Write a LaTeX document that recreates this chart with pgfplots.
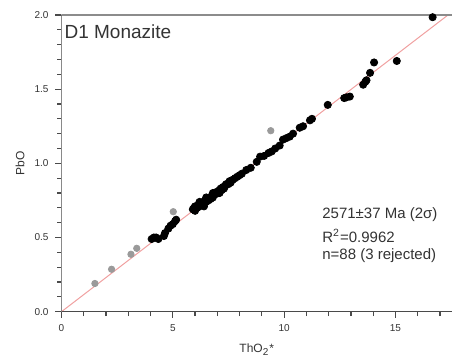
\documentclass[border=0pt]{standalone}
\usepackage{fontspec}
\setmainfont{Liberation Sans}
\usepackage{pgfplots}
\pgfplotsset{compat=1.18}
\definecolor{axgray}{HTML}{4A4A4A}
\definecolor{topgray}{HTML}{8C8C8C}
\definecolor{fitred}{HTML}{F0A0A0}
\definecolor{txtgray}{HTML}{333333}
\definecolor{rejgray}{HTML}{9A9A9A}
\begin{document}
\begin{tikzpicture}
\begin{axis}[
  scale only axis,
  width=195.25pt, height=148.35pt,
  xmin=0, xmax=17.54, ymin=0, ymax=2.0,
  separate axis lines,
  every outer x axis line/.append style={draw=none},
  every outer y axis line/.append style={draw=none},
  xtick pos=bottom, ytick pos=left,
  xtick={0,5,10,15}, ytick={0,0.5,1.0,1.5,2.0},
  minor xtick={1,2,3,4,6,7,8,9,11,12,13,14,16,17},
  minor ytick={0.1,0.2,0.3,0.4,0.6,0.7,0.8,0.9,1.1,1.2,1.3,1.4,1.6,1.7,1.8,1.9},
  tick align=outside,
  major tick length=3pt, minor tick length=2.2pt,
  every tick/.style={draw=axgray, line width=0.6pt},
  /pgf/number format/assume math mode=true,
  yticklabel style={/pgf/number format/fixed, /pgf/number format/fixed zerofill, /pgf/number format/precision=1},
  ticklabel style={font=\fontsize{5}{6}\selectfont, text=txtgray},
  xlabel={ThO\textsubscript{2}*},
  ylabel={PbO},
  every axis x label/.style={at={(rel axis cs:0.5,0)}, anchor=center, yshift=-19pt, font=\fontsize{6}{7}\selectfont, text=txtgray},
  every axis y label/.style={at={(rel axis cs:0,0.5)}, xshift=-20.75pt, rotate=90, anchor=center, font=\fontsize{6}{7}\selectfont, text=txtgray},
  clip=true,
]
\addplot[fitred, line width=0.5pt] coordinates {(0,0) (17.54,2.0206)};
% rejected / grey points
\addplot[only marks, mark=*, mark size=1.6pt, draw=rejgray, fill=rejgray] coordinates {
(1.50,0.19) (2.25,0.286) (3.12,0.387) (3.38,0.427) (5.02,0.674) (9.40,1.22)
};
% accepted points
\addplot[only marks, mark=*, mark size=1.8pt, black] coordinates {
(4.05,0.49) (4.15,0.50) (4.25,0.50) (4.35,0.49) (4.60,0.51) (4.65,0.53)
(4.80,0.56) (4.90,0.58) (5.00,0.59) (5.10,0.61) (5.15,0.62)
(5.90,0.69) (5.95,0.70) (6.00,0.68) (6.05,0.71) (6.10,0.70) (6.15,0.72)
(6.20,0.71) (6.25,0.73) (6.30,0.72) (6.35,0.74) (6.40,0.73) (6.45,0.75)
(6.50,0.74) (6.55,0.76) (6.60,0.75) (6.65,0.77) (6.70,0.76) (6.75,0.78)
(6.80,0.77) (6.85,0.80) (6.90,0.79) (6.95,0.80) (7.00,0.81) (7.05,0.80)
(7.10,0.82) (7.15,0.83) (7.20,0.82) (7.25,0.84) (7.30,0.83) (7.35,0.85)
(7.40,0.86) (7.50,0.86) (7.55,0.88) (7.60,0.87) (7.70,0.89) (7.80,0.90)
(7.90,0.91) (8.00,0.92) (6.20,0.74) (6.50,0.77) (6.80,0.80) (7.10,0.80)
(6.40,0.71) (6.00,0.71)
(8.10,0.93) (8.30,0.955) (8.50,0.97) (8.77,1.01) (8.92,1.045) (9.10,1.05)
(9.30,1.07) (9.44,1.08) (9.60,1.10) (9.80,1.12) (9.95,1.16) (10.10,1.17)
(10.25,1.18) (10.40,1.20) (10.70,1.24) (10.85,1.25) (11.16,1.29) (11.25,1.30)
(11.96,1.394) (12.70,1.44) (12.80,1.445) (12.95,1.45) (13.55,1.53) (13.65,1.55)
(13.70,1.56) (13.86,1.61) (14.04,1.68) (15.06,1.69) (16.67,1.985)
};
\draw[topgray, line width=1.2pt] (rel axis cs:0,1) -- (rel axis cs:1,1);
\draw[axgray, line width=0.7pt] (rel axis cs:0,1) -- (rel axis cs:0,0) -- (rel axis cs:1,0);
\node[anchor=west, font=\fontsize{9.5}{11}\selectfont, text=txtgray, inner sep=0pt] at (axis cs:0.12,1.885) {D1 Monazite};
\node[anchor=west, font=\fontsize{7.5}{9}\selectfont, text=txtgray, inner sep=0pt] at (axis cs:11.7,0.652) {2571±37 Ma (2σ)};
\node[anchor=west, font=\fontsize{7.5}{9}\selectfont, text=txtgray, inner sep=0pt] at (axis cs:11.7,0.51) {R\textsuperscript{2}=0.9962};
\node[anchor=west, font=\fontsize{7.5}{9}\selectfont, text=txtgray, inner sep=0pt] at (axis cs:11.7,0.375) {n=88 (3 rejected)};
\end{axis}
\pgfresetboundingbox
\path[use as bounding box] ([xshift=-30.75pt,yshift=-22.15pt]current axis.south west) rectangle ([yshift=7.5pt]current axis.north east);
\end{tikzpicture}
\end{document}
